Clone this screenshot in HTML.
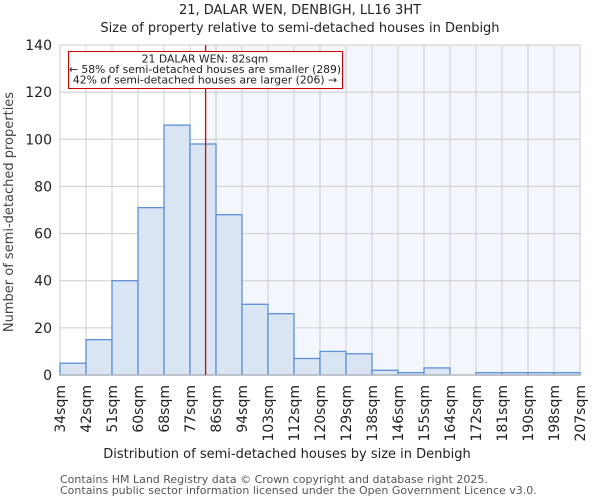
<!DOCTYPE html>
<html><head><meta charset="utf-8"><style>
body{margin:0;background:#fff}
svg{display:block;font-family:"DejaVu Sans","Liberation Sans",sans-serif}
</style></head><body>
<svg id="chart" width="600" height="500">
<text x="300" y="14" text-anchor="middle" font-size="13" fill="#222">21, DALAR WEN, DENBIGH, LL16 3HT</text>
<text x="300" y="32" text-anchor="middle" font-size="13" fill="#222">Size of property relative to semi-detached houses in Denbigh</text>
<g id="plot"></g>
<text x="287" y="458" text-anchor="middle" font-size="13" fill="#222">Distribution of semi-detached houses by size in Denbigh</text>
<text transform="translate(13,212) rotate(-90)" text-anchor="middle" font-size="13" fill="#444">Number of semi-detached properties</text>
<text x="60" y="483" font-size="11" fill="#555">Contains HM Land Registry data © Crown copyright and database right 2025.</text>
<text x="60" y="494" font-size="11" fill="#555">Contains public sector information licensed under the Open Government Licence v3.0.</text>
</svg>
<script>
const categories=["34sqm","42sqm","51sqm","60sqm","68sqm","77sqm","86sqm","94sqm","103sqm","112sqm","120sqm","129sqm","138sqm","146sqm","155sqm","164sqm","172sqm","181sqm","190sqm","198sqm","207sqm"];
const counts=[5,15,40,71,106,98,68,30,26,7,10,9,2,1,3,0,1,1,1,1];
const yTicks=[0,20,40,60,80,100,120,140];
const markerBin=5.6;
const NS="http://www.w3.org/2000/svg";
const L=60,R=580,T=45,B=375,yMax=140;
const xs=i=>L+i*(R-L)/counts.length;
const ys=v=>B-v*(B-T)/yMax;
const g=document.getElementById('plot');
function mk(t,a){const e=document.createElementNS(NS,t);for(const k in a)e.setAttribute(k,a[k]);g.appendChild(e);return e;}
const mx=xs(markerBin);
let e=mk('rect',{x:L,y:T,width:R-L,height:B-T,fill:'#fff'});


e=mk('rect',{x:mx,y:T,width:R-mx,height:B-T,fill:'#f3f6fd'});


yTicks.forEach(v=>{
 e=mk('line',{x1:L,x2:R,y1:ys(v),y2:ys(v),stroke:'#ccc','stroke-width':1});
 
 
 e=mk('text',{x:L-8,y:ys(v)+5,'text-anchor':'end','font-size':14,fill:'#222'});
 e.textContent=v;
 
 
});
categories.forEach((c,i)=>{
 e=mk('line',{x1:xs(i),x2:xs(i),y1:T,y2:B,stroke:'#ccc','stroke-width':1});
 
 
 e=mk('text',{transform:`translate(${xs(i)+5},${B+10}) rotate(-90)`,'text-anchor':'end','font-size':14,fill:'#222'});
 e.textContent=c;
 
 
});
counts.forEach((v,i)=>{
 if(v<=0)return;
 e=mk('rect',{x:xs(i),y:ys(v),width:xs(i+1)-xs(i),height:B-ys(v),fill:'#dae5f4',stroke:'#5b8fd8','stroke-width':1.3});
 
 
});
e=mk('line',{x1:L,x2:R,y1:B,y2:B,stroke:'#bbb','stroke-width':1.5});


e=mk('line',{x1:mx,x2:mx,y1:T,y2:B,stroke:'#d00','stroke-width':1.3});


e=mk('rect',{x:68.5,y:51.5,width:274,height:37,fill:'#fff',stroke:'#c00','stroke-width':1});


["21 DALAR WEN: 82sqm","← 58% of semi-detached houses are smaller (289)","42% of semi-detached houses are larger (206) →"].forEach((t,i)=>{
 e=mk('text',{x:205,y:62.5+i*10.5,'text-anchor':'middle','font-size':10.8,fill:'#222'});
 e.textContent=t;
 
 
});
</script>
</body></html>
